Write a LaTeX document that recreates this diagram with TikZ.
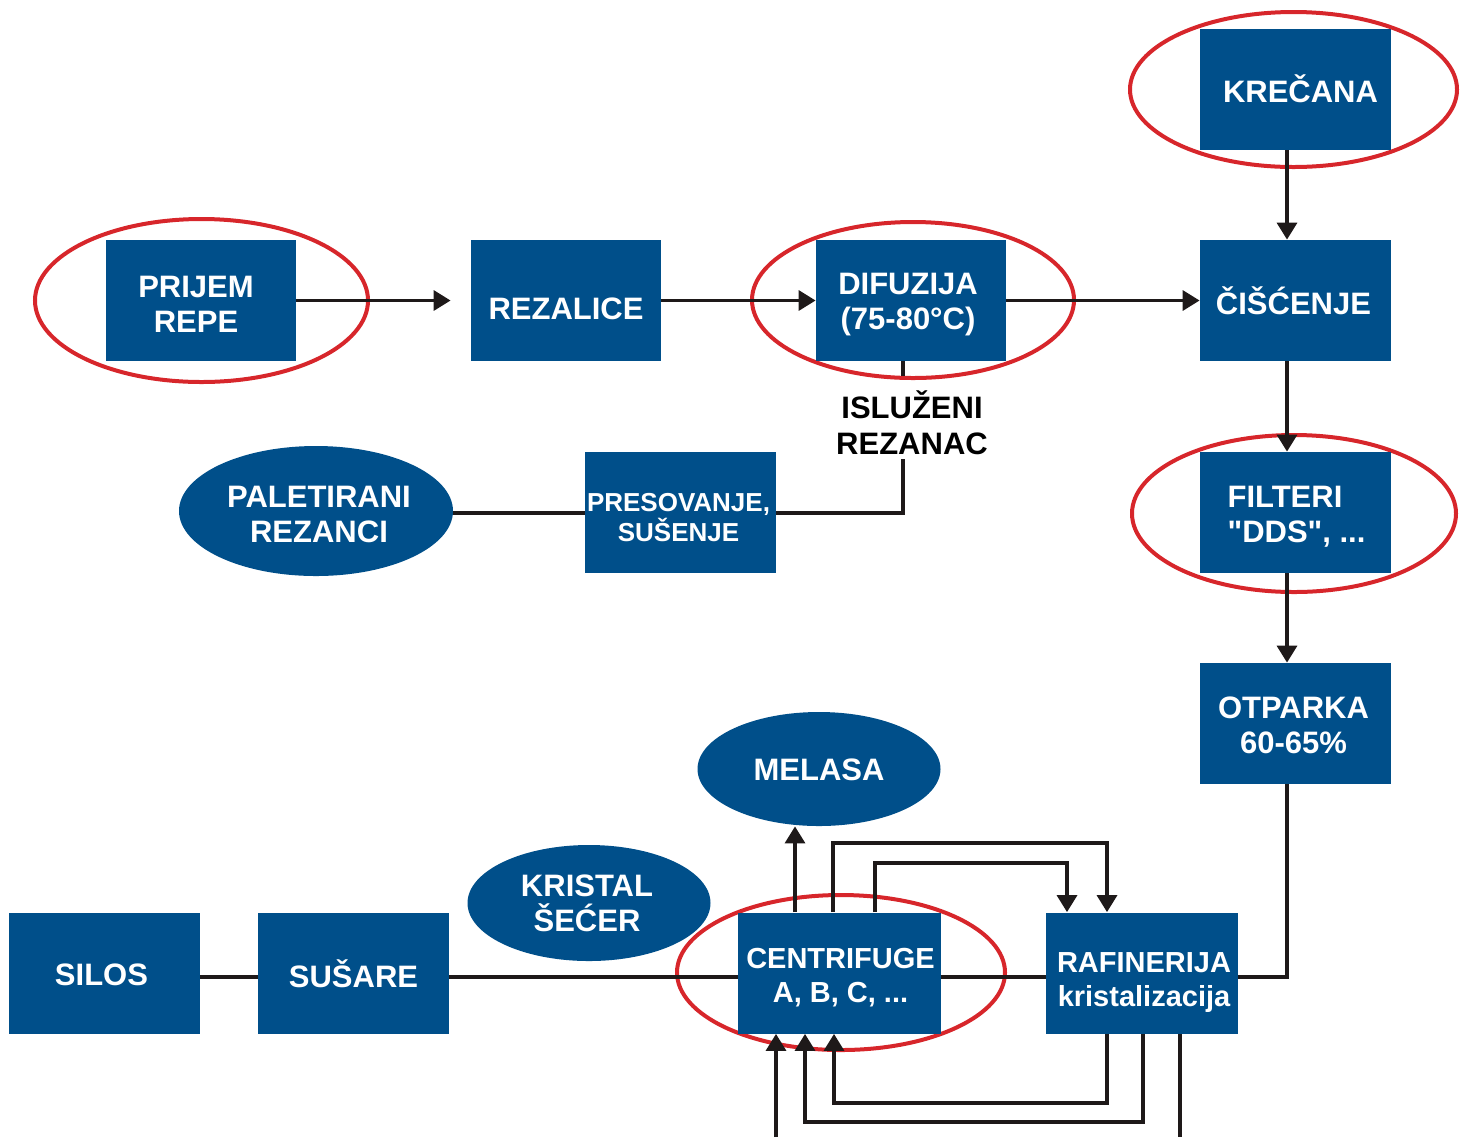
\documentclass[tikz,border=0pt]{standalone}
\usepackage{fontspec}
\setmainfont{Liberation Sans}[Ligatures=TeXOff]
\usetikzlibrary{shapes.geometric,arrows.meta}
\definecolor{myblue}{RGB}{0,79,138}
\definecolor{myred}{RGB}{215,38,43}
\definecolor{myline}{RGB}{30,25,25}
\tikzset{
  box/.style={fill=myblue, minimum height=60.5pt, inner sep=0pt},
  blob/.style={ellipse, fill=myblue, inner sep=0pt},
  tx/.style={text=white, font=\bfseries\fontsize{15.5}{17.5}\selectfont, align=center, inner sep=0pt},
  txs/.style={tx, font=\bfseries\fontsize{14.5}{17}\selectfont},
  ring/.style={ellipse, draw=myred, line width=2pt, inner sep=0pt},
  conn/.style={draw=myline, line width=1.7pt},
  arr/.style={conn, -{Triangle[length=8.5pt,width=10pt]}},
  lbl/.style={text=black, font=\bfseries\fontsize{15.5}{18}\selectfont, align=center}
}
\begin{document}
\begin{tikzpicture}[x=0.5pt,y=-0.5pt]
\useasboundingbox (0,0) rectangle (1466,1137);
% red rings
\node[ring, minimum width=166.5pt, minimum height=81.5pt] (r1) at (201.5,300.5) {};
\node[ring, minimum width=161pt, minimum height=78pt] (r2) at (913,300) {};
\node[ring, minimum width=163.5pt, minimum height=77.5pt] (r3) at (1293.5,89.5) {};
\node[ring, minimum width=162pt, minimum height=78.5pt] (r4) at (1294,513.5) {};
\node[ring, minimum width=164pt, minimum height=77.5pt] (r5) at (841,972.5) {};
% boxes
\node[box, minimum width=95pt] (prijem) at (201,300.5) {};
\node[box, minimum width=95pt] (rezalice) at (566,300.5) {};
\node[box, minimum width=95pt] (difuzija) at (911,300.5) {};
\node[box, minimum width=95.5pt] (ciscenje) at (1295.5,300.5) {};
\node[box, minimum width=95.5pt] (krecana) at (1295.5,89) {};
\node[box, minimum width=95.5pt] (filteri) at (1295.5,512.5) {};
\node[box, minimum width=95.5pt] (otparka) at (1295.5,723.5) {};
\node[box, minimum width=95.5pt] (pres) at (680.5,512.5) {};
\node[box, minimum width=95.5pt] (silos) at (104.5,973.5) {};
\node[box, minimum width=95.5pt] (susare) at (353.5,973.5) {};
\node[box, minimum width=101.5pt] (centri) at (839.5,973) {};
\node[box, minimum width=96pt] (rafin) at (1142,973) {};
% blue ellipses
\node[blob, minimum width=137pt, minimum height=65pt] (palet) at (316,511) {};
\node[blob, minimum width=121.5pt, minimum height=58pt] (kristal) at (589,903) {};
\node[blob, minimum width=121.5pt, minimum height=57pt] (melasa) at (819,769) {};
% texts
\node[tx] (prijem-t) at ([shift={(-5,4)}]prijem.center) {PRIJEM\\REPE};
\node[tx] (rezalice-t) at ([shift={(0,8)}]rezalice.center) {REZALICE};
\node[tx] (difuzija-t) at ([shift={(-3,4.5)}]difuzija.center) {DIFUZIJA\\(75-80°C)};
\node[tx] (ciscenje-t) at ([shift={(-2,0)}]ciscenje.center) {ČIŠĆENJE};
\node[tx] (krecana-t) at ([shift={(5,0)}]krecana.center) {KREČANA};
\node[tx, align=left] (filteri-t) at ([shift={(1,4)}]filteri.center) {FILTERI\\"DDS", ...};
\node[tx] (otparka-t) at ([shift={(-2,1.5)}]otparka.center) {OTPARKA\\60-65\%};
\node[tx, font=\bfseries\fontsize{13}{15}\selectfont] (pres-t) at ([shift={(-2,5)}]pres.center) {PRESOVANJE,\\SUŠENJE};
\node[tx] (silos-t) at ([shift={(-3,1)}]silos.center) {SILOS};
\node[tx] (susare-t) at (susare.center) {SUŠARE};
\node[txs] (centri-t) at ([shift={(1,5)}]centri.center) {CENTRIFUGE\\A, B, C, ...};
\node[txs] (rafin-t) at ([shift={(2,10)}]rafin.center) {RAFINERIJA\\kristalizacija};
\node[tx] (palet-t) at ([shift={(3,3)}]palet.center) {PALETIRANI\\REZANCI};
\node[tx] (kristal-t) at ([shift={(-2,0)}]kristal.center) {KRISTAL\\ŠEĆER};
\node[tx] (melasa-t) at ([shift={(0,1)}]melasa.center) {MELASA};
% label
\node[lbl] (islu) at (912,423) {ISLUŽENI\\REZANAC};
% helper coordinates
\coordinate (vx) at (1287,0);
\coordinate (hy) at (0,977);
\coordinate (dx) at (903,0);
\coordinate (t1) at (903,376);
\coordinate (t2) at (903,459);
\coordinate (py) at (0,513);
\coordinate (mx) at (795,0);
\coordinate (l1a) at (833,843);
\coordinate (l1b) at (1107,843);
\coordinate (l2a) at (875,863);
\coordinate (l2b) at (1067,863);
\coordinate (b1a) at (1107,1103);
\coordinate (b1b) at (834,1103);
\coordinate (b2a) at (1143,1122);
\coordinate (b2b) at (805,1122);
\coordinate (inb) at (776,1137);
\coordinate (outb) at (1180,1137);
\coordinate (oc) at (1287,977);
% top row
\draw[arr, shorten >=10pt] (prijem.east) -- (rezalice.west);
\draw[arr] (rezalice.east) -- (difuzija.west);
\draw[arr] (difuzija.east) -- (ciscenje.west);
% right column
\draw[arr] (krecana.south -| vx) -- (ciscenje.north -| vx);
\draw[arr] (ciscenje.south -| vx) -- (filteri.north -| vx);
\draw[arr] (filteri.south -| vx) -- (otparka.north -| vx);
\draw[conn] (otparka.south -| vx) -- (oc) -- (rafin.east |- oc);
% pulp branch
\draw[conn] (difuzija.south -| dx) -- (t1);
\draw[conn] (t2) |- (pres.east |- py);
\draw[conn] (pres.west |- py) -- (palet.east |- py);
% bottom line
\draw[conn] (silos.east |- hy) -- (susare.west |- hy);
\draw[conn] (susare.east |- hy) -- (centri.west |- hy);
\draw[conn] (centri.east |- hy) -- (rafin.west |- hy);
% centrifuge loops
\draw[arr] (centri.north -| mx) -- (melasa.south -| mx);
\draw[arr] (centri.north -| l1a) -- (l1a) -- (l1b) -- (rafin.north -| l1b);
\draw[arr] (centri.north -| l2a) -- (l2a) -- (l2b) -- (rafin.north -| l2b);
\draw[arr] (rafin.south -| b1a) -- (b1a) -- (b1b) -- (centri.south -| b1b);
\draw[arr] (rafin.south -| b2a) -- (b2a) -- (b2b) -- (centri.south -| b2b);
\draw[arr] (inb) -- (centri.south -| inb);
\draw[conn] (rafin.south -| outb) -- (outb);
\end{tikzpicture}
\end{document}
